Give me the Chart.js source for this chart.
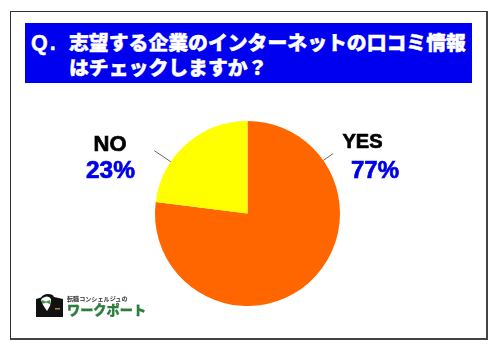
<!DOCTYPE html>
<html lang="ja">
<head>
<meta charset="utf-8">
<script src="https://cdn.jsdelivr.net/npm/chart.js@4"></script>
<style>
  html, body { margin: 0; padding: 0; background: #fff; }
  #page { position: relative; width: 500px; height: 352px; overflow: hidden; }
  #frame { position: absolute; left: 10px; top: 11px; width: 475px; height: 326px; border: 1.5px solid #333; border-right: 2px solid #444; border-bottom: 2px solid #444; }
  #banner { position: absolute; left: 25px; top: 23px; width: 447px; height: 60px; background: #0000f0; color: #fff; font-weight: 700; }
  #banner span { position: absolute; white-space: nowrap; -webkit-text-stroke: .45px #fff; }
  #q { left: 6px; top: 6px; font: 700 21.5px/28px "Liberation Sans", sans-serif; letter-spacing: 2px; }
  #l1 { left: 44px; top: 5px; font: 900 19.85px/28px "Noto Sans CJK JP", sans-serif; }
  #l2 { left: 44px; top: 30px; font: 900 19.85px/28px "Noto Sans CJK JP", sans-serif; }
  canvas { position: absolute; left: 0; top: 0; }
  #logo { position: absolute; left: 36px; top: 294px; }
  #tag { position: absolute; left: 67px; top: 295px; font: 700 6.1px/8px "Noto Sans CJK JP", sans-serif; color: #333; white-space: nowrap; }
  #brand { position: absolute; left: 67px; top: 301px; font: 900 13.2px/18px "Noto Sans CJK JP", sans-serif; color: #2b7d3c; white-space: nowrap; -webkit-text-stroke: .3px #2b7d3c; }
</style>
</head>
<body>
<div id="page">
  <div id="frame"></div>
  <div id="banner">
    <span id="q">Q.</span>
    <span id="l1">志望する企業のインターネットの口コミ情報</span>
    <span id="l2">はチェックしますか？</span>
  </div>
  <canvas id="pieChart" width="500" height="352"></canvas>
  <svg id="logo" width="28" height="24" viewBox="0 0 28 24">
    <path d="M0 5 L5 3.5 Q7 0 12 0 Q17 0 18 3 L27 5 V23 H0 Z" fill="#111"/>
    <path d="M5 6 Q6 3 11 2.5 Q15 3 15 6 L14 12 L11 17 L7 11 Z" fill="#fff"/>
    <path d="M6 6 L10 7.5 L14 6 V10 L10 8.5 L6 10 Z" fill="#3f9a4d"/>
    <rect x="19" y="14" width="5" height="1.5" fill="#a9824a"/>
  </svg>
  <div id="tag">転職コンシェルジュの</div>
  <div id="brand">ワークポート</div>
</div>
<script>
const categories = ['YES', 'NO'];
const shares = [77, 23];
const sliceColors = ['#ff6600', '#ffff00'];

// leader line and text for each slice, index follows categories
const callouts = [
  { angle: 55, lead: 12, nameX: 362.5, nameY: 148, nameSize: 20, pctX: 375, pctY: 178, pctSize: 24 },
  { angle: -56, lead: 20, nameX: 110, nameY: 150.5, nameSize: 22, pctX: 110.5, pctY: 178, pctSize: 24.5 }
];

const calloutPlugin = {
  id: 'callouts',
  afterDatasetsDraw(chart) {
    const c = chart.ctx;
    chart.getDatasetMeta(0).data.forEach((arc, i) => {
      const s = callouts[i];
      const rad = s.angle * Math.PI / 180;
      const r = arc.outerRadius;
      c.save();
      c.strokeStyle = '#666';
      c.lineWidth = 1;
      c.beginPath();
      c.moveTo(arc.x + Math.sin(rad) * r, arc.y - Math.cos(rad) * r);
      c.lineTo(arc.x + Math.sin(rad) * (r + s.lead), arc.y - Math.cos(rad) * (r + s.lead));
      c.stroke();
      c.textAlign = 'center';
      c.textBaseline = 'alphabetic';
      c.lineWidth = 0.7;
      c.font = '700 ' + s.nameSize + 'px "Liberation Sans", sans-serif';
      c.fillStyle = '#000';
      c.strokeStyle = '#000';
      c.fillText(categories[i], s.nameX, s.nameY);
      c.strokeText(categories[i], s.nameX, s.nameY);
      c.font = '700 ' + s.pctSize + 'px "Liberation Sans", sans-serif';
      c.fillStyle = '#0000e6';
      c.strokeStyle = '#0000e6';
      c.fillText(shares[i] + '%', s.pctX, s.pctY);
      c.strokeText(shares[i] + '%', s.pctX, s.pctY);
      c.restore();
    });
  }
};

new Chart(document.getElementById('pieChart').getContext('2d'), {
  type: 'pie',
  data: {
    labels: categories,
    datasets: [{
      data: shares,
      backgroundColor: sliceColors,
      borderWidth: 0
    }]
  },
  options: {
    responsive: false,
    animation: false,
    layout: { padding: { top: 121, bottom: 46, left: 155, right: 160 } },
    plugins: {
      legend: { display: false },
      tooltip: { enabled: false }
    }
  },
  plugins: [calloutPlugin]
});
</script>
</body>
</html>
